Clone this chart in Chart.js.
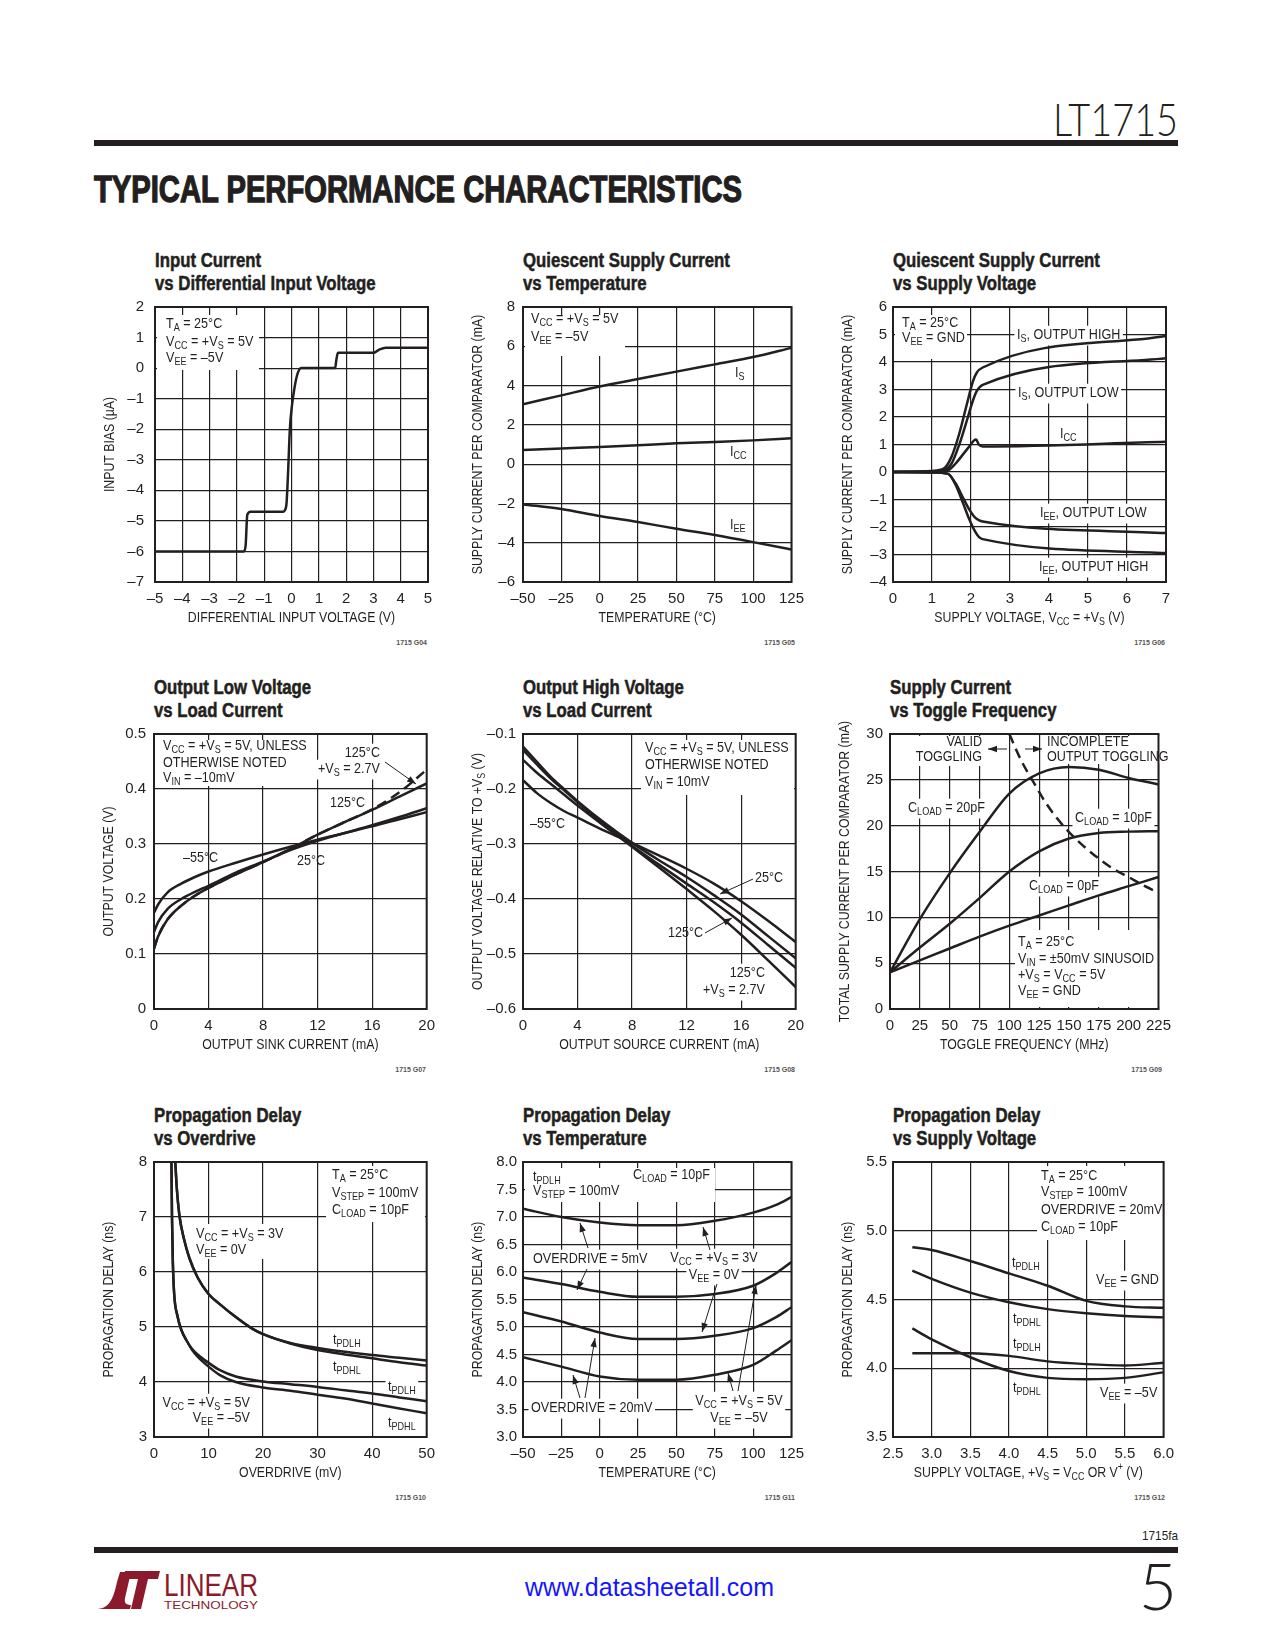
<!DOCTYPE html>
<html>
<head>
<meta charset="utf-8">
<title>LT1715 Typical Performance Characteristics</title>
<script src="https://cdn.jsdelivr.net/npm/chart.js@4.4.1/dist/chart.umd.min.js"></script>
<style>
  body { margin: 0; background: #fff; }
  #page { position: relative; width: 1275px; height: 1650px; overflow: hidden; background: #fff; color: #231f20;
          font-family: "Liberation Sans Narrow", "Liberation Sans", Arial, sans-serif; }
  .abs { position: absolute; white-space: nowrap; transform-origin: left top; }
  .rule { position: absolute; left: 94px; width: 1084px; height: 6px; background: #231f20; }
  .ctitle { position: absolute; font-weight: bold; font-size: 19.5px; line-height: 23px; white-space: nowrap;
            transform-origin: left top; -webkit-text-stroke: 0.5px #231f20; }
  .gid { position: absolute; font-size: 7px; font-weight: bold; color: #555; text-align: right; width: 60px; }
  canvas { position: absolute; }
</style>
</head>
<body>
<div id="page">
  <div class="abs" id="partno" style="top:96px;font-family:Lato,'Liberation Sans';font-weight:300;font-size:46px;line-height:46px;">LT1715</div>
  <div class="rule" style="top:140px"></div>
  <div class="abs" id="section" style="left:94px;top:171px;font-weight:bold;font-size:37px;line-height:37px;-webkit-text-stroke:1.3px #231f20;">TYPICAL PERFORMANCE CHARACTERISTICS</div>

  <div class="abs" id="docno" style="top:1529px;font-size:13px;line-height:13px;">1715fa</div>
  <div class="rule" style="top:1547px"></div>
  <svg class="abs" style="left:94px;top:1568px" width="170" height="44" viewBox="0 0 170 44">
    <path d="M2 41 C14 41 19 33 23 14 L26 4 L37 4 L31 30 C30 35 32 37 37 37 L36 41 Z" fill="#8b1a2c"/>
    <path d="M31 3 L66 3 L64 11 L54 11 L47 41 L37 41 L44 11 L29 11 Z" fill="#8b1a2c"/>
    <text x="70" y="28" font-family="Liberation Sans Narrow, Arial" font-size="31" fill="#8b1a2c" textLength="94" lengthAdjust="spacingAndGlyphs">LINEAR</text>
    <text x="70" y="41" font-family="Liberation Sans Narrow, Arial" font-size="11" fill="#8b1a2c" textLength="94" lengthAdjust="spacingAndGlyphs">TECHNOLOGY</text>
  </svg>
  <div class="abs" id="url" style="left:525px;top:1573px;font-family:'Liberation Sans',Arial;font-size:25px;line-height:28px;color:#1515ff;">www.datasheetall.com</div>
  <div class="abs" id="pageno" style="top:1552px;font-family:Lato,'Liberation Sans';font-weight:300;font-size:66px;line-height:66px;">5</div>
</div>

<script>
// --- Dados ---

// G04: corrente de entrada vs tensão diferencial
const g04Vin   = [-5, -1.75, -1.68, -1.62, -1.5, -0.3, -0.24, -0.18, -0.12, -0.06, 0.02, 0.1, 0.2, 0.35, 1.6, 1.64, 1.7, 3.0, 3.2, 3.45, 5];
const g04Ibias = [-6, -6, -5.8, -4.8, -4.7, -4.7, -4.65, -4.4, -3.3, -2.0, -1.2, -0.7, -0.25, 0, 0, 0.25, 0.5, 0.5, 0.6, 0.67, 0.67];

// G05: corrente quiescente vs temperatura
const g05Temp = [-50, -25, 0, 25, 50, 75, 100, 125];
const g05Is   = [3.05, 3.5, 3.95, 4.33, 4.71, 5.08, 5.45, 5.92];
const g05Icc  = [0.72, 0.8, 0.87, 0.96, 1.06, 1.13, 1.21, 1.32];
const g05Iee  = [-2.05, -2.28, -2.64, -2.95, -3.29, -3.61, -3.97, -4.35];

// G06: corrente quiescente vs tensão de alimentação
const g06VsHigh = [0, 1, 1.3, 1.5, 1.7, 1.9, 2.05, 2.15, 2.3, 7];
const g06IsHigh = [0, 0.04, 0.12, 0.55, 1.4, 2.5, 3.3, 3.62, 3.8, 4.95];
const g06IsLow  = [0, 0.02, 0.06, 0.3, 1.0, 1.9, 2.6, 2.95, 3.17, 4.14];
const g06VsIcc  = [0, 1, 1.4, 1.6, 1.8, 1.95, 2.08, 2.13, 2.2, 2.3, 7];
const g06Icc    = [0, 0.02, 0.06, 0.3, 0.65, 0.92, 1.15, 1.18, 1.0, 0.93, 1.1];
const g06VsIee  = [0, 1, 1.4, 1.6, 1.8, 1.95, 2.1, 2.2, 2.3, 7];
const g06IeeLow  = [0, -0.02, -0.06, -0.4, -0.95, -1.35, -1.65, -1.75, -1.8, -2.22];
const g06IeeHigh = [0, -0.02, -0.06, -0.45, -1.15, -1.7, -2.15, -2.36, -2.44, -2.95];

// G07: tensão de saída baixa vs corrente de carga
const g07Isink  = [0, 0.3, 1, 2, 3, 4, 6, 8, 10, 12, 14, 16, 18, 20];
const g07Vm55   = [0.175, 0.19, 0.212, 0.228, 0.24, 0.25, 0.266, 0.281, 0.295, 0.308, 0.32, 0.332, 0.345, 0.358];
const g07V25    = [0.14, 0.158, 0.182, 0.2, 0.213, 0.224, 0.248, 0.268, 0.289, 0.306, 0.32, 0.334, 0.349, 0.365];
const g07V125   = [0.11, 0.132, 0.163, 0.188, 0.206, 0.22, 0.245, 0.267, 0.291, 0.317, 0.34, 0.362, 0.386, 0.41];
const g07V125Lo = [0.11, 0.132, 0.163, 0.188, 0.206, 0.22, 0.245, 0.267, 0.291, 0.317, 0.34, 0.363, 0.394, 0.435];

// G08: tensão de saída alta vs corrente de carga
const g08Isrc   = [0, 1, 2, 3, 4, 6, 8, 10, 12, 14, 16, 18, 20];
const g08Vm55   = [-0.184, -0.207, -0.225, -0.24, -0.252, -0.276, -0.298, -0.321, -0.345, -0.372, -0.404, -0.44, -0.478];
const g08V25    = [-0.123, -0.15, -0.177, -0.2, -0.222, -0.262, -0.298, -0.33, -0.36, -0.393, -0.428, -0.468, -0.508];
const g08V125   = [-0.129, -0.155, -0.18, -0.202, -0.224, -0.265, -0.303, -0.338, -0.372, -0.406, -0.443, -0.484, -0.525];
const g08V125Lo = [-0.147, -0.17, -0.19, -0.21, -0.23, -0.268, -0.305, -0.343, -0.382, -0.422, -0.465, -0.512, -0.56];

// G09: corrente vs frequência de chaveamento
const g09Freq  = [0, 25, 50, 75, 100, 125, 150, 175, 200, 225];
const g09I20pF = [4, 9.8, 14.8, 19.3, 23.5, 25.7, 26.4, 26.1, 25.2, 24.5];
const g09I10pF = [4, 6.7, 9.3, 12.1, 15, 17.2, 18.6, 19.2, 19.35, 19.4];
const g09I0pF  = [4, 5.3, 6.6, 7.9, 9.1, 10.2, 11.3, 12.4, 13.4, 14.4];
const g09LimF  = [100, 105, 110, 115, 120, 130, 140, 150, 162, 175, 187, 200, 212, 225];
const g09LimI  = [30, 28.5, 27.1, 25.9, 24.8, 22.6, 20.8, 19.3, 17.8, 16.4, 15.3, 14.4, 13.5, 12.7];

// G10: atraso vs overdrive
const g10Od3V  = [3.9, 4.2, 4.7, 5.5, 6.5, 8, 10, 12, 15, 18, 20, 25, 30, 35, 40, 45, 50];
const g10Lh3V  = [8, 7.5, 7.0, 6.6, 6.25, 5.9, 5.6, 5.42, 5.18, 4.97, 4.87, 4.71, 4.62, 4.55, 4.49, 4.44, 4.39];
const g10Hl3V  = [8, 7.5, 7.0, 6.6, 6.25, 5.9, 5.6, 5.42, 5.18, 4.97, 4.87, 4.7, 4.58, 4.5, 4.43, 4.36, 4.3];
const g10Od5V  = [3.2, 3.3, 3.45, 3.7, 4.3, 5, 6, 7, 8, 10, 12, 15, 20, 25, 30, 35, 40, 45, 50];
const g10Lh5V  = [8, 7.0, 6.2, 5.6, 5.2, 4.95, 4.75, 4.6, 4.5, 4.35, 4.22, 4.1, 4.01, 3.96, 3.91, 3.85, 3.79, 3.72, 3.65];
const g10Hl5V  = [8, 7.0, 6.2, 5.6, 5.2, 4.95, 4.75, 4.58, 4.46, 4.28, 4.13, 4.0, 3.9, 3.84, 3.77, 3.7, 3.61, 3.52, 3.43];

// G11: atraso vs temperatura
const g11Temp   = [-50, -25, 0, 25, 50, 75, 100, 115, 125];
const g11Od5_3V  = [7.15, 7.0, 6.9, 6.85, 6.85, 6.93, 7.08, 7.22, 7.36];
const g11Od5_5V  = [5.9, 5.78, 5.64, 5.55, 5.55, 5.6, 5.75, 5.98, 6.18];
const g11Od20_3V = [5.27, 5.1, 4.9, 4.78, 4.78, 4.84, 4.98, 5.18, 5.36];
const g11Od20_5V = [4.45, 4.28, 4.1, 4.04, 4.04, 4.13, 4.31, 4.57, 4.76];

// G12: atraso vs tensão de alimentação
const g12Vs     = [2.75, 3.0, 3.5, 4.0, 4.5, 5.0, 5.5, 6.0];
const g12LhGnd  = [4.88, 4.86, 4.78, 4.69, 4.6, 4.49, 4.45, 4.44];
const g12HlGnd  = [4.71, 4.65, 4.55, 4.48, 4.43, 4.4, 4.38, 4.37];
const g12LhNeg  = [4.11, 4.11, 4.11, 4.09, 4.05, 4.03, 4.02, 4.04];
const g12HlNeg  = [4.29, 4.21, 4.08, 3.98, 3.93, 3.92, 3.93, 3.97];

// --- Estilo comum ---
const INK = '#231f20';
const FONT = '"Liberation Sans Narrow", "Liberation Sans", Arial, sans-serif';
const M = { left: 62, top: 22, right: 16, bottom: 52 };  // margens do canvas em volta da área do gráfico
const PW = 273, PH = 275;                                // tamanho da área de plotagem
const NOTE_SIZE = 15, NOTE_SX = 0.84;                    // texto das anotações (condensado)
const AXIS_SIZE = 15, AXIS_SX = 0.82;                    // títulos dos eixos

function fmt(v, dec) {
  const s = Math.abs(v) < 1e-9 ? (0).toFixed(dec) : v.toFixed(dec);
  return s.replace('-', '\u2013');
}

function ticksFor(min, max, step) {
  const out = [];
  const n = Math.round((max - min) / step);
  for (let i = 0; i <= n; i++) out.push({ value: +(min + i * step).toFixed(6) });
  return out;
}

// texto com _{sub} e ^{sup}
function parseRich(s) {
  const out = [], re = /([_^])\{([^}]*)\}/g;
  let last = 0, m;
  while ((m = re.exec(s))) {
    if (m.index > last) out.push({ t: s.slice(last, m.index), k: '' });
    out.push({ t: m[2], k: m[1] });
    last = re.lastIndex;
  }
  if (last < s.length) out.push({ t: s.slice(last), k: '' });
  return out;
}

function rich(ctx, s, x, y, o) {
  const size = o.size || NOTE_SIZE, sx = o.sx || NOTE_SX;
  const parts = parseRich(s);
  let w = 0;
  parts.forEach(p => {
    ctx.font = `${p.k ? size * 0.72 : size}px ${FONT}`;
    p.w = ctx.measureText(p.t).width;
    w += p.w;
  });
  ctx.save();
  ctx.translate(x, y);
  if (o.rot) ctx.rotate(o.rot);
  ctx.scale(sx, 1);
  let cx = o.align === 'right' ? -w : o.align === 'center' ? -w / 2 : 0;
  if (o.mode === 'bg') {
    ctx.fillStyle = '#fff';
    ctx.fillRect(cx - 3, -size * 0.62, w + 6, size * 1.32);
  } else {
    ctx.fillStyle = INK;
    ctx.textBaseline = 'middle';
    ctx.textAlign = 'left';
    parts.forEach(p => {
      ctx.font = `${p.k ? size * 0.72 : size}px ${FONT}`;
      const dy = p.k === '_' ? size * 0.3 : p.k === '^' ? -size * 0.38 : 0;
      ctx.fillText(p.t, cx, dy);
      cx += p.w;
    });
  }
  ctx.restore();
}

function arrow(ctx, x1, y1, x2, y2) {
  ctx.beginPath();
  ctx.moveTo(x1, y1);
  ctx.lineTo(x2, y2);
  ctx.lineWidth = 1;
  ctx.strokeStyle = INK;
  ctx.stroke();
  const a = Math.atan2(y2 - y1, x2 - x1), L = 9, W = 3.2;
  ctx.beginPath();
  ctx.moveTo(x2, y2);
  ctx.lineTo(x2 - L * Math.cos(a) + W * Math.sin(a), y2 - L * Math.sin(a) - W * Math.cos(a));
  ctx.lineTo(x2 - L * Math.cos(a) - W * Math.sin(a), y2 - L * Math.sin(a) + W * Math.cos(a));
  ctx.closePath();
  ctx.fillStyle = INK;
  ctx.fill();
}

// anotações: posições em px relativos ao canto superior esquerdo da área de plotagem
function notesPlugin(c) {
  return {
    id: 'notes_' + c.id,
    beforeDatasetsDraw(chart) {
      const { ctx, chartArea: a } = chart;
      ctx.save();
      c.notes.forEach(n => {
        if (n.box) {
          ctx.fillStyle = '#fff';
          ctx.fillRect(a.left + n.box[0], a.top + n.box[1], n.box[2], n.box[3]);
        } else if (n.s && n.bg) {
          rich(ctx, n.s, a.left + n.x, a.top + n.y, { align: n.align, mode: 'bg' });
        }
      });
      ctx.restore();
    },
    afterDatasetsDraw(chart) {
      const { ctx, chartArea: a } = chart;
      c.notes.forEach(n => {
        if (n.s) rich(ctx, n.s, a.left + n.x, a.top + n.y, { align: n.align });
        if (n.arrow) arrow(ctx, a.left + n.arrow[0], a.top + n.arrow[1], a.left + n.arrow[2], a.top + n.arrow[3]);
      });
      // títulos dos eixos
      rich(ctx, c.xTitle, (a.left + a.right) / 2, a.bottom + 36, { align: 'center', size: AXIS_SIZE, sx: AXIS_SX });
      rich(ctx, c.yTitle, a.left - 45, (a.top + a.bottom) / 2, { align: 'center', size: AXIS_SIZE, sx: AXIS_SX, rot: -Math.PI / 2 });
      // moldura
      ctx.save();
      ctx.lineWidth = 2;
      ctx.strokeStyle = INK;
      ctx.strokeRect(a.left, a.top, a.right - a.left, a.bottom - a.top);
      ctx.restore();
    }
  };
}

function series(xs, ys, dash) {
  return {
    data: xs.map((x, i) => ({ x, y: ys[i] })),
    borderColor: INK,
    borderWidth: 2.5,
    borderDash: dash ? [10, 6] : [],
    pointRadius: 0,
    fill: false,
    cubicInterpolationMode: 'monotone'
  };
}

const charts = [
  {
    id: 'G04', left: 155, top: 307, title: ['Input Current', 'vs Differential Input Voltage'],
    x: [-5, 5, 1], y: [-7, 2, 1], xDec: 0, yDec: 0, yPad: 11,
    xTitle: 'DIFFERENTIAL INPUT VOLTAGE (V)', yTitle: 'INPUT BIAS (\u00b5A)',
    series: [series(g04Vin, g04Ibias)],
    notes: [
      { box: [2, 8, 102, 55] },
      { s: 'T_{A} = 25\u00b0C', x: 11, y: 17 },
      { s: 'V_{CC} = +V_{S} = 5V', x: 11, y: 35 },
      { s: 'V_{EE} = \u20135V', x: 11, y: 51 }
    ]
  },
  {
    id: 'G05', left: 523, top: 307, title: ['Quiescent Supply Current', 'vs Temperature'],
    x: [-50, 125, 25], y: [-6, 8, 2], xDec: 0, yDec: 0, yPad: 8,
    xTitle: 'TEMPERATURE (\u00b0C)', yTitle: 'SUPPLY CURRENT PER COMPARATOR (mA)',
    series: [series(g05Temp, g05Is), series(g05Temp, g05Icc), series(g05Temp, g05Iee)],
    notes: [
      { box: [2, 8, 100, 41] },
      { s: 'V_{CC} = +V_{S} = 5V', x: 8, y: 12 },
      { s: 'V_{EE} = \u20135V', x: 8, y: 30 },
      { s: 'I_{S}', x: 212, y: 66 },
      { s: 'I_{CC}', x: 207, y: 145 },
      { s: 'I_{EE}', x: 207, y: 218 }
    ]
  },
  {
    id: 'G06', left: 893, top: 307, title: ['Quiescent Supply Current', 'vs Supply Voltage'],
    x: [0, 7, 1], y: [-4, 6, 1], xDec: 0, yDec: 0, yPad: 6,
    xTitle: 'SUPPLY VOLTAGE, V_{CC} = +V_{S} (V)', yTitle: 'SUPPLY CURRENT PER COMPARATOR (mA)',
    series: [series(g06VsHigh, g06IsHigh), series(g06VsHigh, g06IsLow), series(g06VsIcc, g06Icc),
             series(g06VsIee, g06IeeLow), series(g06VsIee, g06IeeHigh)],
    notes: [
      { box: [2, 8, 72, 44] },
      { s: 'T_{A} = 25\u00b0C', x: 9, y: 16 },
      { s: 'V_{EE} = GND', x: 9, y: 31 },
      { s: 'I_{S}, OUTPUT HIGH', x: 124, y: 28, bg: true },
      { s: 'I_{S}, OUTPUT LOW', x: 125, y: 86, bg: true },
      { s: 'I_{CC}', x: 167, y: 127 },
      { s: 'I_{EE}, OUTPUT LOW', x: 147, y: 206, bg: true },
      { s: 'I_{EE}, OUTPUT HIGH', x: 146, y: 260, bg: true }
    ]
  },
  {
    id: 'G07', left: 154, top: 734, title: ['Output Low Voltage', 'vs Load Current'],
    x: [0, 20, 4], y: [0, 0.5, 0.1], xDec: 0, yDec: 1, yPad: 8,
    xTitle: 'OUTPUT SINK CURRENT (mA)', yTitle: 'OUTPUT VOLTAGE (V)',
    series: [series(g07Isink, g07Vm55), series(g07Isink, g07V25), series(g07Isink, g07V125),
             series(g07Isink, g07V125Lo, true)],
    notes: [
      { box: [2, 6, 156, 46] },
      { s: 'V_{CC} = +V_{S} = 5V, UNLESS', x: 9, y: 12 },
      { s: 'OTHERWISE NOTED', x: 9, y: 29 },
      { s: 'V_{IN} = \u201310mV', x: 9, y: 44 },
      { s: '125\u00b0C', x: 226, y: 19, align: 'right', bg: true },
      { s: '+V_{S} = 2.7V', x: 226, y: 35, align: 'right', bg: true },
      { arrow: [231, 28, 262, 50] },
      { s: '125\u00b0C', x: 176, y: 69 },
      { s: '\u201355\u00b0C', x: 29, y: 124 },
      { s: '25\u00b0C', x: 143, y: 127 }
    ]
  },
  {
    id: 'G08', left: 523, top: 734, title: ['Output High Voltage', 'vs Load Current'],
    x: [0, 20, 4], y: [-0.6, -0.1, 0.1], xDec: 0, yDec: 1, yPad: 7,
    xTitle: 'OUTPUT SOURCE CURRENT (mA)', yTitle: 'OUTPUT VOLTAGE RELATIVE TO +V_{S} (V)',
    series: [series(g08Isrc, g08Vm55), series(g08Isrc, g08V25), series(g08Isrc, g08V125), series(g08Isrc, g08V125Lo)],
    notes: [
      { box: [118, 6, 153, 55] },
      { s: 'V_{CC} = +V_{S} = 5V, UNLESS', x: 122, y: 14 },
      { s: 'OTHERWISE NOTED', x: 122, y: 31 },
      { s: 'V_{IN} = 10mV', x: 122, y: 48 },
      { s: '\u201355\u00b0C', x: 7, y: 90 },
      { s: '25\u00b0C', x: 232, y: 144 },
      { arrow: [230, 145, 197, 160] },
      { s: '125\u00b0C', x: 145, y: 199 },
      { arrow: [182, 199, 209, 184] },
      { s: '125\u00b0C', x: 242, y: 239, align: 'right', bg: true },
      { s: '+V_{S} = 2.7V', x: 242, y: 256, align: 'right', bg: true }
    ]
  },
  {
    id: 'G09', left: 890, top: 734, title: ['Supply Current', 'vs Toggle Frequency'],
    x: [0, 225, 25], y: [0, 30, 5], xDec: 0, yDec: 0, yPad: 7,
    xTitle: 'TOGGLE FREQUENCY (MHz)', yTitle: 'TOTAL SUPPLY CURRENT PER COMPARATOR (mA)',
    series: [series(g09Freq, g09I20pF), series(g09Freq, g09I10pF), series(g09Freq, g09I0pF),
             series(g09LimF, g09LimI, true)],
    notes: [
      { box: [26, 2, 68, 30] },
      { box: [155, 2, 116, 28] },
      { s: 'VALID', x: 92, y: 8, align: 'right' },
      { s: 'TOGGLING', x: 92, y: 23, align: 'right' },
      { s: 'INCOMPLETE', x: 157, y: 8 },
      { s: 'OUTPUT TOGGLING', x: 157, y: 23 },
      { arrow: [117, 15, 98, 15] },
      { arrow: [135, 15, 152, 15] },
      { s: 'C_{LOAD} = 20pF', x: 18, y: 74, bg: true },
      { s: 'C_{LOAD} = 10pF', x: 185, y: 84, bg: true },
      { s: 'C_{LOAD} = 0pF', x: 139, y: 152, bg: true },
      { box: [125, 196, 146, 77] },
      { s: 'T_{A} = 25\u00b0C', x: 128, y: 208 },
      { s: 'V_{IN} = \u00b150mV SINUSOID', x: 128, y: 225 },
      { s: '+V_{S} = V_{CC} = 5V', x: 128, y: 241 },
      { s: 'V_{EE} = GND', x: 128, y: 257 }
    ]
  },
  {
    id: 'G10', left: 154, top: 1162, title: ['Propagation Delay', 'vs Overdrive'],
    x: [0, 50, 10], y: [3, 8, 1], xDec: 0, yDec: 0, yPad: 7,
    xTitle: 'OVERDRIVE (mV)', yTitle: 'PROPAGATION DELAY (ns)',
    series: [series(g10Od3V, g10Lh3V), series(g10Od3V, g10Hl3V), series(g10Od5V, g10Lh5V), series(g10Od5V, g10Hl5V)],
    notes: [
      { box: [172, 4, 99, 56] },
      { s: 'T_{A} = 25\u00b0C', x: 178, y: 13 },
      { s: 'V_{STEP} = 100mV', x: 178, y: 31 },
      { s: 'C_{LOAD} = 10pF', x: 178, y: 48 },
      { box: [40, 62, 92, 35] },
      { s: 'V_{CC} = +V_{S} = 3V', x: 42, y: 72 },
      { s: 'V_{EE} = 0V', x: 42, y: 88 },
      { s: 't_{PDLH}', x: 179, y: 178 },
      { s: 't_{PDHL}', x: 179, y: 205 },
      { s: 't_{PDLH}', x: 234, y: 225, bg: true },
      { s: 't_{PDHL}', x: 234, y: 261 },
      { s: 'V_{CC} = +V_{S} = 5V', x: 96, y: 241, align: 'right', bg: true },
      { s: 'V_{EE} = \u20135V', x: 96, y: 256, align: 'right', bg: true }
    ]
  },
  {
    id: 'G11', left: 523, top: 1162, title: ['Propagation Delay', 'vs Temperature'],
    x: [-50, 125, 25], y: [3, 8, 0.5], xDec: 0, yDec: 1, yPad: 6,
    xTitle: 'TEMPERATURE (\u00b0C)', yTitle: 'PROPAGATION DELAY (ns)',
    series: [series(g11Temp, g11Od5_3V), series(g11Temp, g11Od5_5V), series(g11Temp, g11Od20_3V), series(g11Temp, g11Od20_5V)],
    notes: [
      { box: [2, 6, 190, 34] },
      { s: 't_{PDLH}', x: 10, y: 15 },
      { s: 'V_{STEP} = 100mV', x: 10, y: 29 },
      { s: 'C_{LOAD} = 10pF', x: 110, y: 13 },
      { s: 'OVERDRIVE = 5mV', x: 10, y: 97, bg: true },
      { s: 'V_{CC} = +V_{S} = 3V', x: 191, y: 96, align: 'center', bg: true },
      { s: 'V_{EE} = 0V', x: 191, y: 113, align: 'center', bg: true },
      { s: 'OVERDRIVE = 20mV', x: 8, y: 246, bg: true },
      { s: 'V_{CC} = +V_{S} = 5V', x: 216, y: 239, align: 'center', bg: true },
      { s: 'V_{EE} = \u20135V', x: 216, y: 256, align: 'center', bg: true },
      { arrow: [65, 86, 57, 61] },
      { arrow: [64, 107, 54, 128] },
      { arrow: [187, 88, 180, 65] },
      { arrow: [194, 122, 179, 170] },
      { arrow: [57, 236, 50, 213] },
      { arrow: [62, 236, 72, 176] },
      { arrow: [210, 229, 205, 211] },
      { arrow: [215, 229, 233, 123] }
    ]
  },
  {
    id: 'G12', left: 893, top: 1162, title: ['Propagation Delay', 'vs Supply Voltage'],
    x: [2.5, 6, 0.5], y: [3.5, 5.5, 0.5], xDec: 1, yDec: 1, yPad: 6,
    xTitle: 'SUPPLY VOLTAGE, +V_{S} = V_{CC} OR V^{+} (V)', yTitle: 'PROPAGATION DELAY (ns)',
    series: [series(g12Vs, g12LhGnd), series(g12Vs, g12HlGnd), series(g12Vs, g12LhNeg), series(g12Vs, g12HlNeg)],
    notes: [
      { box: [144, 4, 127, 74] },
      { s: 'T_{A} = 25\u00b0C', x: 148, y: 14 },
      { s: 'V_{STEP} = 100mV', x: 148, y: 30 },
      { s: 'OVERDRIVE = 20mV', x: 148, y: 48 },
      { s: 'C_{LOAD} = 10pF', x: 148, y: 65 },
      { s: 't_{PDLH}', x: 119, y: 101 },
      { s: 't_{PDHL}', x: 120, y: 157 },
      { s: 't_{PDLH}', x: 120, y: 182 },
      { s: 't_{PDHL}', x: 120, y: 226 },
      { s: 'V_{EE} = GND', x: 203, y: 118, bg: true },
      { s: 'V_{EE} = \u20135V', x: 207, y: 231, bg: true }
    ]
  }
];

const page = document.getElementById('page');

function addChart(c) {
  // título em duas linhas
  const t = document.createElement('div');
  t.className = 'ctitle';
  t.style.left = c.left + 'px';
  t.style.top = (c.top - 58) + 'px';
  t.style.transform = 'scaleX(0.86)';
  t.innerHTML = c.title.join('<br>');
  page.appendChild(t);

  // código da figura
  const g = document.createElement('div');
  g.className = 'gid';
  g.style.left = (c.left + PW - 61) + 'px';
  g.style.top = (c.top + PH + 57) + 'px';
  g.textContent = '1715 ' + c.id;
  page.appendChild(g);

  const cv = document.createElement('canvas');
  cv.width = PW + M.left + M.right;
  cv.height = PH + M.top + M.bottom;
  cv.style.left = (c.left - M.left) + 'px';
  cv.style.top = (c.top - M.top) + 'px';
  page.appendChild(cv);

  const tickFont = { family: FONT, size: 15 };
  new Chart(cv, {
    type: 'line',
    data: { datasets: c.series },
    options: {
      responsive: false,
      animation: false,
      events: [],
      layout: { padding: { left: 0, top: M.top, right: M.right, bottom: 0 } },
      plugins: { legend: { display: false }, tooltip: { enabled: false } },
      scales: {
        x: {
          type: 'linear', min: c.x[0], max: c.x[1],
          afterFit: s => { s.height = M.bottom; },
          afterBuildTicks: s => { s.ticks = ticksFor(c.x[0], c.x[1], c.x[2]); },
          ticks: { autoSkip: false, maxRotation: 0, padding: 8, color: INK, font: tickFont, callback: v => fmt(v, c.xDec) },
          grid: { color: INK, lineWidth: 1.2, drawTicks: false },
          border: { display: false }
        },
        y: {
          type: 'linear', min: c.y[0], max: c.y[1],
          afterFit: s => { s.width = M.left; },
          afterBuildTicks: s => { s.ticks = ticksFor(c.y[0], c.y[1], c.y[2]); },
          ticks: { autoSkip: false, padding: c.yPad, color: INK, font: tickFont,
                   callback: v => (c.id === 'G07' && v === 0) ? '0' : fmt(v, c.yDec) },
          grid: { color: INK, lineWidth: 1.2, drawTicks: false },
          border: { display: false }
        }
      }
    },
    plugins: [notesPlugin(c)]
  });
}

charts.forEach(addChart);

// --- Cabeçalho e rodapé: ajusta larguras ---
function fitWidth(el, w) {
  const r = el.getBoundingClientRect();
  el.style.transform = `scaleX(${w / r.width})`;
}
function alignRight(el, right, w) {
  el.style.left = (right - (w || el.getBoundingClientRect().width)) + 'px';
}
const partno = document.getElementById('partno');
fitWidth(partno, 125);
alignRight(partno, 1178, 125);
fitWidth(document.getElementById('section'), 648);
fitWidth(document.getElementById('url'), 249);
const docno = document.getElementById('docno');
fitWidth(docno, 36);
alignRight(docno, 1178, 36);
alignRight(document.getElementById('pageno'), 1177);
</script>
</body>
</html>
